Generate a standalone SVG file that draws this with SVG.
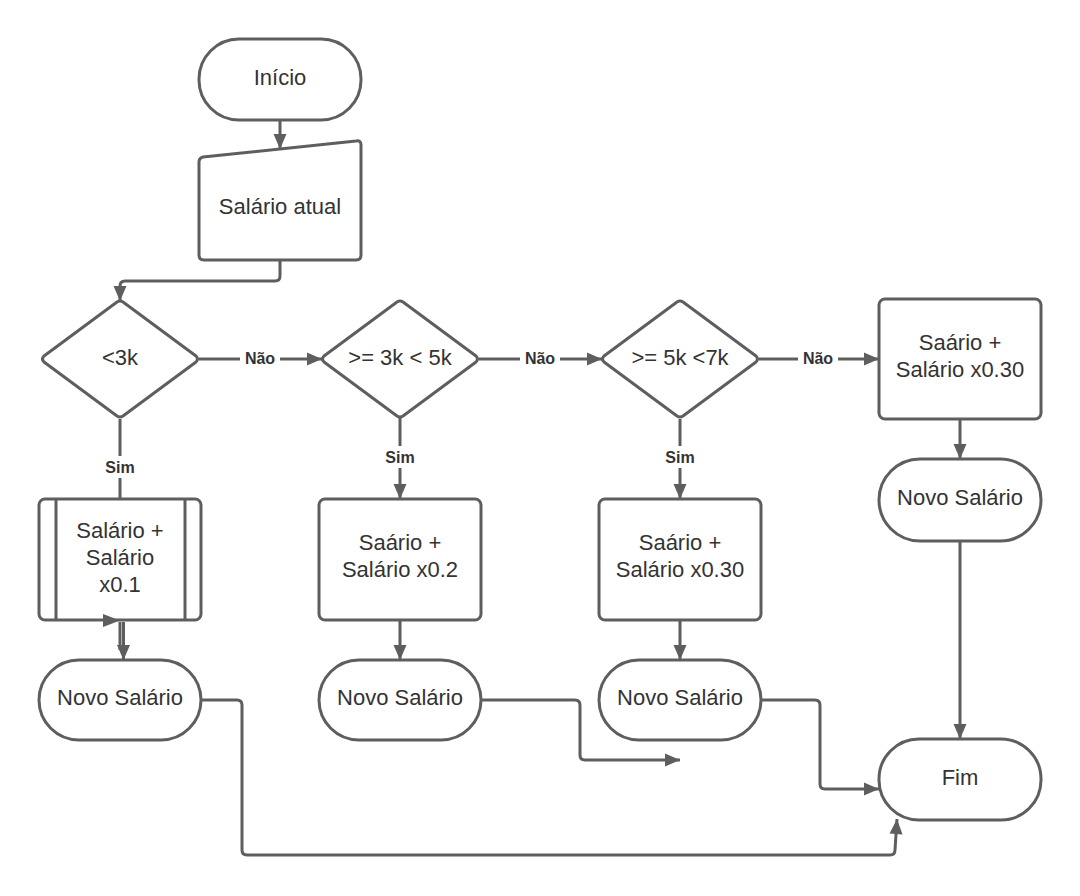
<svg xmlns="http://www.w3.org/2000/svg" width="1080" height="896" viewBox="0 0 1080 896">
<style>
.s{fill:#fff;stroke:#5e5e5e;stroke-width:3;stroke-linejoin:round}
.c{fill:none;stroke:#5e5e5e;stroke-width:3;stroke-linejoin:round}
.t{font-family:"Liberation Sans",Arial,sans-serif;font-size:22px;fill:#333;text-anchor:middle}
.l{font-family:"Liberation Sans",Arial,sans-serif;font-size:16px;font-weight:bold;fill:#333;text-anchor:middle}
.bg{fill:#fff}
.ah{fill:#5e5e5e}
</style>
<defs>
<marker id="a" markerUnits="userSpaceOnUse" markerWidth="18" markerHeight="18" viewBox="0 0 18 18" refX="16" refY="9" orient="auto">
<path d="M1,2.5 L16,9 L1,15.5 Z" fill="#5e5e5e"/>
</marker>
</defs>
<rect width="1080" height="896" fill="#fff"/>
<g id="inicio">
<rect class="s" x="199" y="39" width="162" height="81" rx="40"/>
<text class="t" x="280" y="85">Início</text>
</g>
<g id="salario-atual">
<path class="s" d="M203 157 L356 141 Q361 140 361 145 L361 255 Q361 260 356 260 L204 260 Q199 260 199 255 L199 162 Q199 158 203 157 Z"/>
<text class="t" x="280" y="214">Salário atual</text>
</g>
<g id="d1">
<path class="s" d="M117 302 Q120 300 123 302 L196 356 Q199 359 196 362 L123 416 Q120 418 117 416 L44 362 Q41 359 44 356 Z"/>
<text class="t" x="120" y="365">&lt;3k</text>
</g>
<g id="d2">
<path class="s" d="M397 302 Q400 300 403 302 L476 356 Q479 359 476 362 L403 416 Q400 418 397 416 L324 362 Q321 359 324 356 Z"/>
<text class="t" x="400" y="365">&gt;= 3k &lt; 5k</text>
</g>
<g id="d3">
<path class="s" d="M677 302 Q680 300 683 302 L756 356 Q759 359 756 362 L683 416 Q680 418 677 416 L604 362 Q601 359 604 356 Z"/>
<text class="t" x="680" y="365">&gt;= 5k &lt;7k</text>
</g>
<g id="p4">
<rect class="s" x="879" y="299" width="162" height="120" rx="6"/>
<text class="t" x="960" y="350">Saário +</text>
<text class="t" x="960" y="377">Salário x0.30</text>
</g>
<g id="p1">
<rect class="s" x="39" y="499" width="162" height="121" rx="6"/>
<line class="c" x1="56" y1="499" x2="56" y2="620"/>
<line class="c" x1="185" y1="499" x2="185" y2="620"/>
<text class="t" x="120" y="538">Salário +</text>
<text class="t" x="120" y="565">Salário</text>
<text class="t" x="120" y="592">x0.1</text>
</g>
<g id="p2">
<rect class="s" x="319" y="499" width="162" height="121" rx="6"/>
<text class="t" x="400" y="550">Saário +</text>
<text class="t" x="400" y="577">Salário x0.2</text>
</g>
<g id="p3">
<rect class="s" x="599" y="499" width="162" height="121" rx="6"/>
<text class="t" x="680" y="550">Saário +</text>
<text class="t" x="680" y="577">Salário x0.30</text>
</g>
<g id="ns4">
<rect class="s" x="879" y="459" width="162" height="82" rx="41"/>
<text class="t" x="960" y="505">Novo Salário</text>
</g>
<g id="ns1">
<rect class="s" x="39" y="660" width="162" height="80" rx="40"/>
<text class="t" x="120" y="705">Novo Salário</text>
</g>
<g id="ns2">
<rect class="s" x="319" y="660" width="162" height="80" rx="40"/>
<text class="t" x="400" y="705">Novo Salário</text>
</g>
<g id="ns3">
<rect class="s" x="599" y="660" width="162" height="80" rx="40"/>
<text class="t" x="680" y="705">Novo Salário</text>
</g>
<g id="fim">
<rect class="s" x="879" y="739" width="162" height="81" rx="40"/>
<text class="t" x="960" y="785">Fim</text>
</g>
<g id="connectors">
<path class="c" d="M280 121 L280 149" marker-end="url(#a)"/>
<path class="c" d="M280 261 L280 276 Q280 281 275 281 L125 281 Q120 281 120 286 L120 301" marker-end="url(#a)"/>
<path class="c" d="M199 359 L322 359" marker-end="url(#a)"/>
<path class="c" d="M479 359 L602 359" marker-end="url(#a)"/>
<path class="c" d="M759 359 L879 359" marker-end="url(#a)"/>
<path class="c" d="M120 419 L120 498"/>
<path class="c" d="M400 418 L400 499" marker-end="url(#a)"/>
<path class="c" d="M680 419 L680 499" marker-end="url(#a)"/>
<path class="c" d="M960 420 L960 459" marker-end="url(#a)"/>
<path class="c" d="M960 542 L960 739" marker-end="url(#a)"/>
<path class="c" d="M400 621 L400 660" marker-end="url(#a)"/>
<path class="c" d="M680 621 L680 660" marker-end="url(#a)"/>
<path class="c" d="M120 622 L120 650"/>
<path class="c" d="M123.5 622 L123.5 660" marker-end="url(#a)"/>
<polygon class="ah" points="103,614 120,620.5 103,627"/>
<path class="c" d="M201 700 L237 700 Q242 700 242 705 L242 850 Q242 855 247 855 L890 855 Q895 855 895 850 L897 819" marker-end="url(#a)"/>
<path class="c" d="M481 700 L575 700 Q580 700 580 705 L580 755 Q580 760 585 760 L680 760" marker-end="url(#a)"/>
<path class="c" d="M761 700 L815 700 Q820 700 820 705 L820 784 Q820 789 825 789 L879 789" marker-end="url(#a)"/>
<rect class="bg" x="240" y="348" width="40" height="20"/>
<text class="l" x="260" y="364">Não</text>
<rect class="bg" x="520" y="348" width="40" height="20"/>
<text class="l" x="540" y="364">Não</text>
<rect class="bg" x="798" y="348" width="40" height="20"/>
<text class="l" x="818" y="364">Não</text>
<rect class="bg" x="102" y="456" width="36" height="22"/>
<text class="l" x="120" y="473">Sim</text>
<rect class="bg" x="382" y="446" width="36" height="22"/>
<text class="l" x="400" y="463">Sim</text>
<rect class="bg" x="662" y="446" width="36" height="22"/>
<text class="l" x="680" y="463">Sim</text>
</g>
</svg>
